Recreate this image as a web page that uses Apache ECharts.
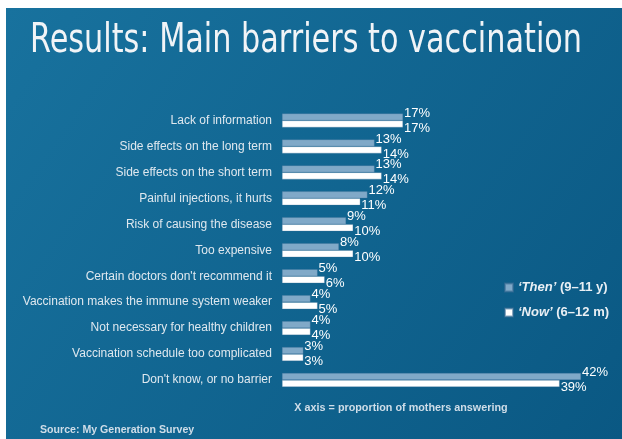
<!DOCTYPE html>
<html>
<head>
<meta charset="utf-8">
<script src="https://cdn.jsdelivr.net/npm/echarts@6/dist/echarts.min.js"></script>
<style>
html,body{margin:0;padding:0;background:#ffffff;}
#c{width:622px;height:439px;}
</style>
</head>
<body>
<div id="c"></div>
<script>
const titleText = 'Results: Main barriers to vaccination';
const categories = [
  'Lack of information',
  'Side effects on the long term',
  'Side effects on the short term',
  'Painful injections, it hurts',
  'Risk of causing the disease',
  'Too expensive',
  "Certain doctors don't recommend it",
  'Vaccination makes the immune system weaker',
  'Not necessary for healthy children',
  'Vaccination schedule too complicated',
  "Don't know, or no barrier"
];
const seriesNames = ['Then', 'Now'];
const legendSuffix = ['(9–11 y)', '(6–12 m)'];
const thenValues = [17, 13, 13, 12, 9, 8, 5, 4, 4, 3, 42];
const nowValues  = [17, 14, 14, 11, 10, 10, 6, 5, 4, 3, 39];
const axisNote = 'X axis = proportion of mothers answering';
const sourceNote = 'Source: My Generation Survey';

const titleFont = '40px "DejaVu Sans"';
const mctx = document.createElement('canvas').getContext('2d');
mctx.font = titleFont;
const titleW = mctx.measureText(titleText).width;
const titleScale = 552 / titleW;

const chart = echarts.init(document.getElementById('c'), null, {renderer: 'canvas'});
const labelFont = 'Liberation Sans, Arial, sans-serif';
const thenColor = '#80a9c8';

chart.setOption({
  animation: false,
  graphic: [
    {
      type: 'rect', z: -10, silent: true,
      shape: {x: 6, y: 8, width: 616, height: 431},
      style: {
        fill: new echarts.graphic.LinearGradient(0, 0, 1, 1, [
          {offset: 0, color: '#18729e'},
          {offset: 1, color: '#0a5883'}
        ])
      }
    },
    {
      type: 'text', x: 30, y: 42, scaleX: titleScale, z: 10,
      style: {text: titleText, font: titleFont, fill: '#f1f4f7', verticalAlign: 'middle', align: 'left'}
    },
    {
      type: 'text', x: 401, y: 408, z: 10,
      style: {text: axisNote, font: 'bold 10.8px ' + labelFont, fill: '#cfdde8', verticalAlign: 'middle', align: 'center'}
    },
    {
      type: 'text', x: 40, y: 430, z: 10,
      style: {text: sourceNote, font: 'bold 10.6px ' + labelFont, fill: '#cfdde8', verticalAlign: 'middle', align: 'left'}
    }
  ],
  legend: {
    orient: 'vertical',
    left: 499, top: 276,
    itemWidth: 8, itemHeight: 8, itemGap: 12,
    icon: 'rect',
    data: seriesNames,
    formatter: function (name) {
      const i = seriesNames.indexOf(name);
      return '{i|‘' + name + '’} ' + legendSuffix[i];
    },
    textStyle: {
      color: '#e9eff4', fontSize: 13, fontWeight: 'bold', fontFamily: labelFont,
      rich: {i: {fontStyle: 'italic', fontWeight: 'bold', fontSize: 13, color: '#e9eff4', fontFamily: labelFont}}
    }
  },
  grid: {left: 282, top: 107.5, width: 299, height: 285.5, containLabel: false},
  xAxis: {
    type: 'value', min: 0, max: 42, show: false
  },
  yAxis: {
    type: 'category', data: categories, inverse: true,
    axisLine: {show: false}, axisTick: {show: false},
    axisLabel: {color: '#dfe8ef', fontSize: 12, fontFamily: labelFont, margin: 10}
  },
  series: [
    {
      name: 'Then', type: 'bar', data: thenValues, barWidth: 7, barGap: '0%',
      itemStyle: {color: thenColor, borderColor: 'rgba(60,110,150,0.6)', borderWidth: 0.5},
      label: {show: true, position: 'right', distance: 1, offset: [0, -4], formatter: '{c}%',
        color: '#ffffff', fontSize: 13, fontFamily: labelFont}
    },
    {
      name: 'Now', type: 'bar', data: nowValues, barWidth: 7,
      itemStyle: {color: '#ffffff', borderColor: 'rgba(60,110,150,0.6)', borderWidth: 0.5},
      label: {show: true, position: 'right', distance: 1, offset: [0, 4], formatter: '{c}%',
        color: '#ffffff', fontSize: 13, fontFamily: labelFont}
    }
  ]
});
</script>
</body>
</html>
